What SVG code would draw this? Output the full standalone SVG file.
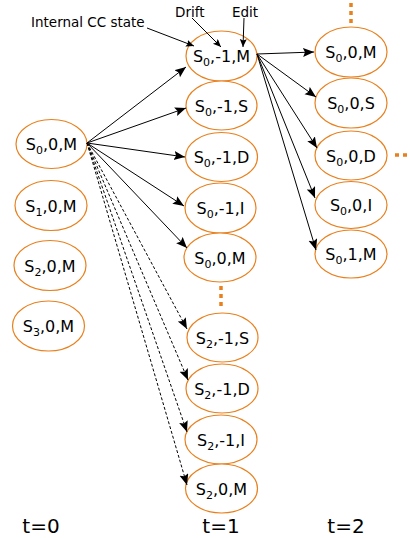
<svg xmlns="http://www.w3.org/2000/svg" width="410" height="538" viewBox="0 0 410 538">
<style>
.n ellipse{fill:#fff;stroke:#e8801e;stroke-width:1.2}
.n text{font-family:"DejaVu Sans",sans-serif;font-size:16px;fill:#000;text-anchor:middle}
.sub{font-size:11px}
.c{stroke:#000;stroke-width:1;fill:none}
.d{stroke-dasharray:3,2}
.lbl{font-family:"DejaVu Sans",sans-serif;font-size:13.5px;fill:#000}
.t{font-family:"DejaVu Sans",sans-serif;font-size:20px;fill:#000;text-anchor:middle}
.dots{stroke:#e8801e;stroke-width:3.5;stroke-dasharray:4,4;fill:none}
</style>
<defs>
<marker id="a" markerUnits="userSpaceOnUse" markerWidth="12" markerHeight="10" refX="11" refY="4.5" orient="auto">
<path d="M0,0 L11,4.5 L0,9 L2,4.5 z" fill="#000"/>
</marker>
<marker id="s" markerUnits="userSpaceOnUse" markerWidth="9" markerHeight="8" refX="8" refY="3.5" orient="auto">
<path d="M0,0 L8,3.5 L0,7 L1.5,3.5 z" fill="#000"/>
</marker>
</defs>
<g id="labels">
<text class="lbl" x="31" y="27">Internal CC state</text>
<text class="lbl" x="175" y="17">Drift</text>
<text class="lbl" x="232" y="17">Edit</text>
<text class="t" x="41" y="533">t=0</text>
<text class="t" x="221" y="533">t=1</text>
<text class="t" x="346" y="533">t=2</text>
</g>
<g id="ellipsis">
<path class="dots" d="M351,3 V24"/>
<path class="dots" d="M221,286 V308"/>
<path class="dots" d="M395,155 H412"/>
</g>
<g id="n00" class="n"><ellipse cx="51.5" cy="144" rx="35.5" ry="24.5"/><text x="51.5" y="150">S<tspan class="sub" dy="4">0</tspan><tspan dy="-4">,0,M</tspan></text></g>
<g id="n01" class="n"><ellipse cx="51" cy="205.5" rx="36" ry="25"/><text x="51" y="211.5">S<tspan class="sub" dy="4">1</tspan><tspan dy="-4">,0,M</tspan></text></g>
<g id="n02" class="n"><ellipse cx="50" cy="265.5" rx="36" ry="25"/><text x="50" y="271.5">S<tspan class="sub" dy="4">2</tspan><tspan dy="-4">,0,M</tspan></text></g>
<g id="n03" class="n"><ellipse cx="48.5" cy="326" rx="36" ry="25"/><text x="48.5" y="332">S<tspan class="sub" dy="4">3</tspan><tspan dy="-4">,0,M</tspan></text></g>
<g id="n10" class="n"><ellipse cx="221.5" cy="56" rx="35.5" ry="25"/><text x="221.5" y="62">S<tspan class="sub" dy="4">0</tspan><tspan dy="-4">,-1,M</tspan></text></g>
<g id="n11" class="n"><ellipse cx="221.5" cy="105.5" rx="35.5" ry="24.5"/><text x="221.5" y="111.5">S<tspan class="sub" dy="4">0</tspan><tspan dy="-4">,-1,S</tspan></text></g>
<g id="n12" class="n"><ellipse cx="221.5" cy="157" rx="36" ry="24.5"/><text x="221.5" y="163">S<tspan class="sub" dy="4">0</tspan><tspan dy="-4">,-1,D</tspan></text></g>
<g id="n13" class="n"><ellipse cx="220.5" cy="208" rx="35.5" ry="25"/><text x="220.5" y="214">S<tspan class="sub" dy="4">0</tspan><tspan dy="-4">,-1,I</tspan></text></g>
<g id="n14" class="n"><ellipse cx="220" cy="257.5" rx="36" ry="24.5"/><text x="220" y="263.5">S<tspan class="sub" dy="4">0</tspan><tspan dy="-4">,0,M</tspan></text></g>
<g id="n15" class="n"><ellipse cx="222.5" cy="337.5" rx="35.5" ry="24.5"/><text x="222.5" y="343.5">S<tspan class="sub" dy="4">2</tspan><tspan dy="-4">,-1,S</tspan></text></g>
<g id="n16" class="n"><ellipse cx="222" cy="388.5" rx="36" ry="24.5"/><text x="222" y="394.5">S<tspan class="sub" dy="4">2</tspan><tspan dy="-4">,-1,D</tspan></text></g>
<g id="n17" class="n"><ellipse cx="221" cy="439.5" rx="36" ry="24.5"/><text x="221" y="445.5">S<tspan class="sub" dy="4">2</tspan><tspan dy="-4">,-1,I</tspan></text></g>
<g id="n18" class="n"><ellipse cx="221.5" cy="488.5" rx="36" ry="24.5"/><text x="221.5" y="494.5">S<tspan class="sub" dy="4">2</tspan><tspan dy="-4">,0,M</tspan></text></g>
<g id="n20" class="n"><ellipse cx="351" cy="52" rx="36" ry="25"/><text x="351" y="58">S<tspan class="sub" dy="4">0</tspan><tspan dy="-4">,0,M</tspan></text></g>
<g id="n21" class="n"><ellipse cx="351" cy="103" rx="36" ry="25"/><text x="351" y="109">S<tspan class="sub" dy="4">0</tspan><tspan dy="-4">,0,S</tspan></text></g>
<g id="n22" class="n"><ellipse cx="351" cy="155.5" rx="36" ry="24.5"/><text x="351" y="161.5">S<tspan class="sub" dy="4">0</tspan><tspan dy="-4">,0,D</tspan></text></g>
<g id="n23" class="n"><ellipse cx="351" cy="205" rx="36" ry="23.5"/><text x="351" y="211">S<tspan class="sub" dy="4">0</tspan><tspan dy="-4">,0,I</tspan></text></g>
<g id="n24" class="n"><ellipse cx="351" cy="254" rx="36" ry="24"/><text x="351" y="260">S<tspan class="sub" dy="4">0</tspan><tspan dy="-4">,1,M</tspan></text></g>
<g id="connectors">
<path class="c" marker-end="url(#a)" d="M87,143 L186,67"/>
<path class="c" marker-end="url(#a)" d="M87,143 L186,108"/>
<path class="c" marker-end="url(#a)" d="M87,143 L185,157"/>
<path class="c" marker-end="url(#a)" d="M87,143 L184,206"/>
<path class="c" marker-end="url(#a)" d="M87,143 L187,248"/>
<path class="c d" marker-end="url(#a)" d="M87,143 L187,329"/>
<path class="c d" marker-end="url(#a)" d="M87,143 L188,380"/>
<path class="c d" marker-end="url(#a)" d="M87,143 L187,432"/>
<path class="c d" marker-end="url(#a)" d="M87,143 L187,485"/>
<path class="c" marker-end="url(#a)" d="M257,54 L314,52"/>
<path class="c" marker-end="url(#a)" d="M257,54 L316,97"/>
<path class="c" marker-end="url(#a)" d="M257,54 L317,148"/>
<path class="c" marker-end="url(#a)" d="M257,54 L315,198"/>
<path class="c" marker-end="url(#a)" d="M257,54 L316,250"/>
<path class="c" marker-end="url(#s)" d="M147,28 L194,46"/>
<path class="c" marker-end="url(#s)" d="M192,18 L221,47"/>
<path class="c" marker-end="url(#s)" d="M244,18 L243,47"/>
</g>
</svg>
